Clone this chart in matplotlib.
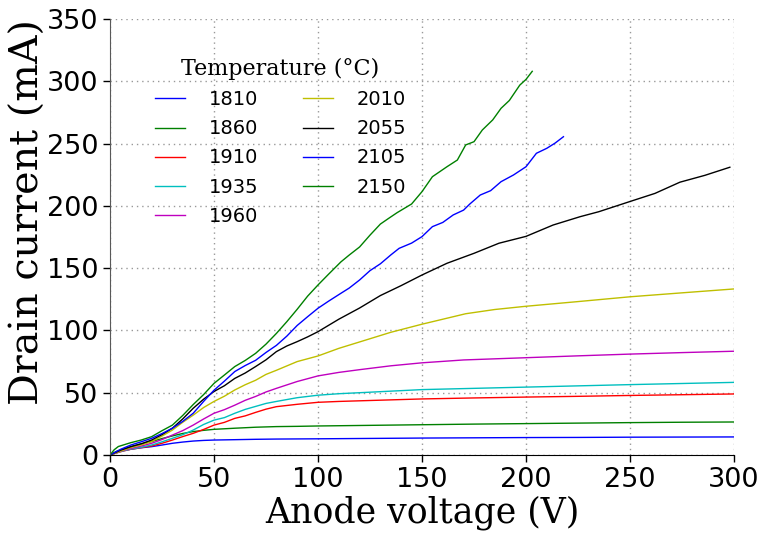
import matplotlib
matplotlib.use("Agg")
import matplotlib.pyplot as plt

# Anode voltage (V) / drain current (mA) for each filament temperature
temps = ["1810", "1860", "1910", "1935", "1960", "2010", "2055", "2105", "2150"]
colors = ["#0000ff", "#008000", "#ff0000", "#00bfbf", "#bf00bf",
          "#bfbf00", "#000000", "#0000ff", "#008000"]

v_1810 = [0, 3, 5, 10, 15, 20, 25, 30, 35, 40, 45, 50, 60, 70, 80, 100, 125, 150,
          175, 200, 225, 250, 275, 300]
i_1810 = [0, 2.2, 3.2, 4.6, 5.8, 6.7, 8.0, 9.4, 10.4, 11.2, 11.7, 12.0, 12.3, 12.6,
          12.8, 13.0, 13.3, 13.6, 13.8, 14.0, 14.1, 14.3, 14.4, 14.5]

v_1860 = [0, 3, 5, 10, 15, 20, 25, 30, 35, 40, 45, 50, 60, 70, 80, 90, 100, 125,
          150, 175, 200, 225, 250, 275, 300]
i_1860 = [0, 2.8, 4.0, 6.7, 8.9, 10.8, 13.2, 15.3, 17.3, 18.8, 19.8, 20.6, 21.5,
          22.3, 22.8, 23.0, 23.3, 23.8, 24.3, 24.8, 25.2, 25.6, 26.0, 26.3, 26.5]

v_1910 = [0, 5, 10, 15, 20, 25, 30, 35, 40, 45, 50, 55, 60, 65, 70, 75, 80, 90, 100,
          110, 120, 150, 175, 200, 225, 250, 275, 300]
i_1910 = [0, 2.6, 4.6, 5.9, 7.2, 9.4, 12.0, 14.8, 17.4, 20.5, 24.0, 26.2, 29.4, 31.4,
          34.2, 36.8, 38.8, 40.7, 42.3, 43.0, 43.5, 45.0, 45.8, 46.5, 47.1, 47.8,
          48.4, 49.0]

v_1935 = [0, 5, 10, 15, 20, 25, 30, 35, 40, 45, 50, 55, 60, 65, 70, 75, 80, 90, 100,
          110, 120, 150, 175, 200, 225, 250, 275, 300]
i_1935 = [0, 2.7, 4.8, 6.2, 8.0, 10.6, 13.4, 16.3, 20.0, 24.5, 28.0, 30.0, 33.5, 36.6,
          39.0, 41.4, 43.0, 46.0, 48.0, 49.2, 50.0, 52.5, 53.5, 54.5, 55.5, 56.5,
          57.4, 58.3]

v_1960 = [0, 5, 10, 15, 20, 25, 30, 35, 40, 45, 50, 55, 60, 65, 70, 75, 80, 90, 100,
          110, 120, 135, 150, 170, 200, 225, 250, 275, 300]
i_1960 = [0, 2.9, 5.3, 7.2, 9.4, 12.4, 16.0, 19.6, 24.0, 28.9, 33.5, 36.4, 40.0, 43.9,
          47.0, 50.6, 53.5, 59.0, 63.5, 66.3, 68.5, 71.6, 74.0, 76.3, 78.1, 79.6,
          81.0, 82.2, 83.3]

v_2010 = [0, 5, 10, 15, 20, 25, 30, 35, 40, 45, 50, 55, 60, 65, 70, 75, 80, 90, 100,
          110, 123, 135, 150, 171, 185, 200, 224, 250, 276, 300]
i_2010 = [0, 3.1, 6.0, 8.1, 10.8, 15.2, 20.0, 26.3, 32.0, 38.1, 43.0, 47.2, 52.2, 56.4,
          60.0, 64.7, 68.0, 75.0, 79.5, 85.6, 92.3, 98.5, 105.0, 113.4, 116.8, 119.4,
          123.0, 127.0, 130.3, 133.3]

v_2055 = [0, 5, 10, 15, 20, 25, 30, 35, 40, 45, 50, 55, 60, 65, 70, 75, 80, 85, 90,
          95, 100, 110, 120, 130, 140, 150, 162, 175, 187, 200, 213, 226, 235, 250,
          262, 274, 286, 298]
i_2055 = [0, 3.8, 6.7, 9.0, 12.0, 16.4, 21.5, 29.0, 37.5, 44.8, 51.0, 55.6, 61.5, 65.8,
          71.0, 76.4, 83.0, 87.5, 91.0, 94.8, 99.0, 109.0, 118.0, 128.0, 136.0, 144.5,
          153.9, 161.9, 170.0, 175.5, 184.6, 191.3, 195.3, 203.5, 210.0, 219.0,
          224.5, 231.0]

v_2105 = [0, 5, 10, 15, 20, 25, 30, 35, 40, 45, 50, 55, 60, 65, 70, 75, 80, 85, 90,
          95, 100, 105, 111, 115, 120, 125, 130, 135, 139, 145, 150, 155, 160, 165,
          170, 173, 178, 183, 188, 194, 200, 205, 210, 214, 218]
i_2105 = [0, 4.5, 8.0, 10.6, 13.4, 17.2, 21.5, 27.0, 33.5, 43.0, 52.0, 59.3, 67.0, 71.8,
          76.0, 82.3, 88.0, 95.4, 104.0, 111.0, 117.8, 123.4, 129.8, 134.0, 140.5,
          148.0, 153.5, 160.6, 165.9, 170.1, 175.3, 183.3, 186.7, 192.7, 196.6,
          201.5, 208.7, 212.2, 219.4, 224.8, 231.4, 242.2, 246.2, 250.4, 255.5]

v_2150 = [0, 2, 4, 10, 15, 20, 25, 30, 35, 40, 45, 50, 55, 60, 65, 70, 75, 80, 85, 90,
          95, 100, 105, 111, 115, 120, 125, 130, 134, 138, 145, 150, 155, 162, 167,
          171, 175, 179, 184, 188, 192, 197, 200, 203]
i_2150 = [0, 4.2, 6.8, 9.9, 12.0, 14.7, 19.5, 24.0, 31.8, 40.5, 48.5, 57.5, 64.2, 71.0,
          75.9, 81.6, 89.0, 97.6, 107.0, 117.0, 127.5, 136.5, 145.0, 155.0, 160.5,
          167.0, 176.5, 185.4, 190.0, 194.5, 201.5, 211.4, 223.4, 231.4, 236.8,
          248.9, 251.5, 260.9, 269.0, 278.3, 284.6, 296.9, 301.5, 308.0]

voltages = [v_1810, v_1860, v_1910, v_1935, v_1960, v_2010, v_2055, v_2105, v_2150]
currents = [i_1810, i_1860, i_1910, i_1935, i_1960, i_2010, i_2055, i_2105, i_2150]

fig = plt.figure(figsize=(7.59, 5.35), dpi=100)
ax = fig.add_axes([110 / 759, 80 / 535, 624 / 759, 436 / 535])

for v, i, c, t in zip(voltages, currents, colors, temps):
    ax.plot(v, i, color=c, linewidth=1.0, label=t)

ax.set_xlim(0, 300)
ax.set_ylim(0, 350)
ax.set_xticks(range(0, 301, 50))
ax.set_yticks(range(0, 351, 50))

ax.grid(True, color="0.6", linestyle=(0, (1, 2.8)), linewidth=1.0)
ax.set_axisbelow(True)

for side in ("top", "right"):
    ax.spines[side].set_visible(False)
ax.spines["left"].set_color("0.35")
ax.spines["left"].set_linestyle((0, (4, 1)))
ax.spines["bottom"].set_color("black")
ax.spines["bottom"].set_linestyle((0, (4, 1)))

ax.tick_params(axis="both", which="major", direction="out", length=5, width=1,
               labelsize=19.5, top=False, right=False)

ax.set_xlabel("Anode voltage (V)", family="DejaVu Serif", fontsize=25, labelpad=2)
ax.set_ylabel("Drain current (mA)", family="DejaVu Serif", fontsize=28.5)
ax.yaxis.set_label_coords(-0.101, 0.557)

leg = ax.legend(ncol=2, frameon=False, fontsize=14, loc="upper left",
                bbox_to_anchor=(45 / 624, 397 / 436), borderaxespad=0, borderpad=0,
                handlelength=1.55, handletextpad=1.2, columnspacing=2.3,
                labelspacing=0.52, title="Temperature (°C)",
                title_fontproperties={"family": "DejaVu Serif", "size": 16})

fig.savefig("out.png", dpi=100)
